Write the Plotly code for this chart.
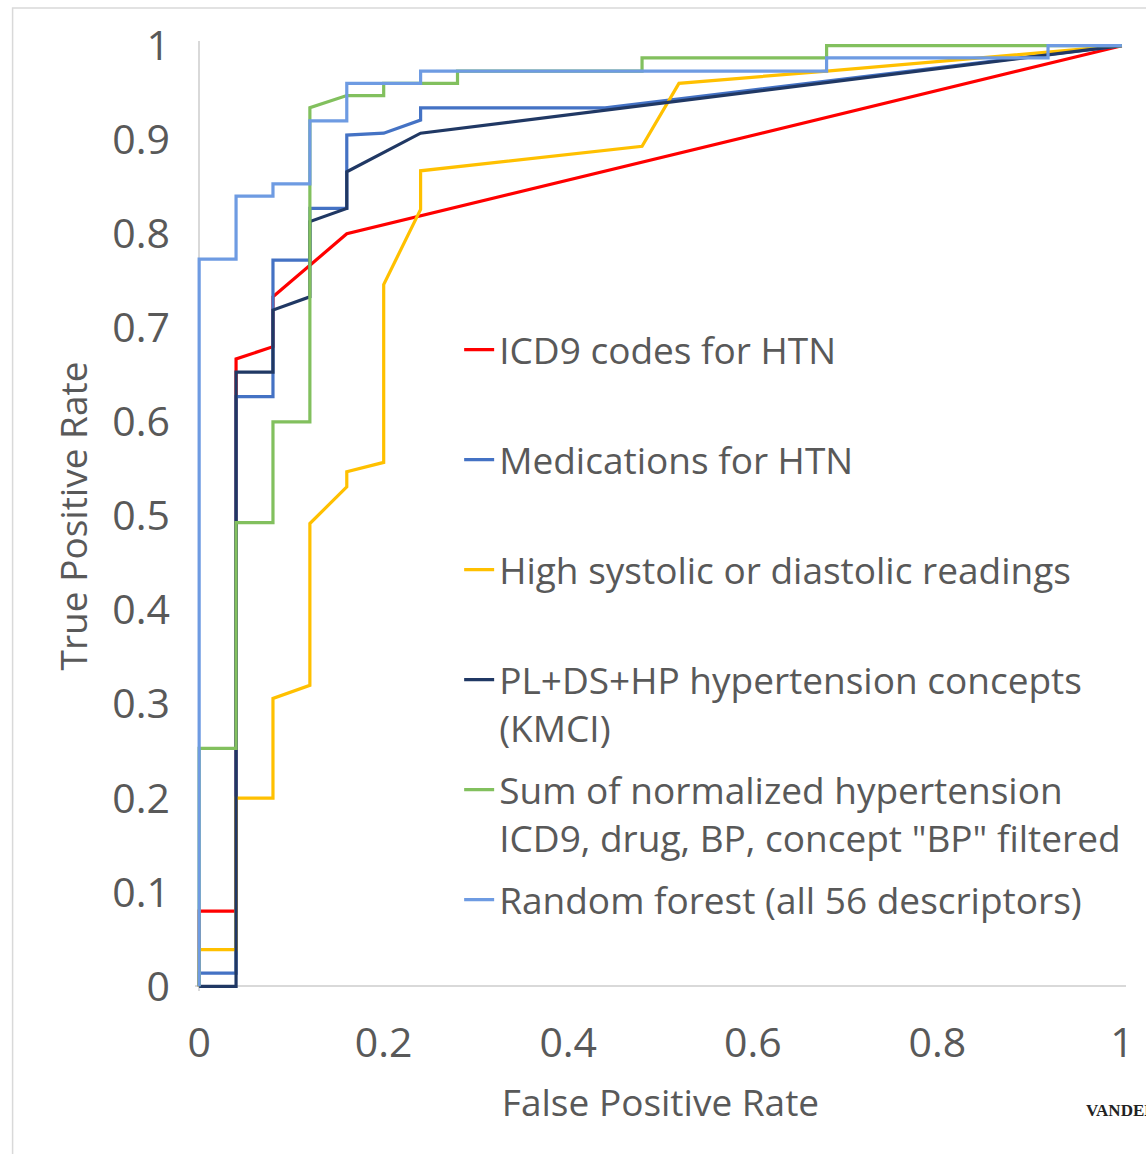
import plotly.graph_objects as go

# ---- data ----
fpr_icd9 = [0, 0, 0.04, 0.04, 0.08, 0.08, 0.16, 1]
tpr_icd9 = [0, 0.08, 0.08, 0.667, 0.68, 0.733, 0.80, 1]

fpr_med = [0, 0, 0.04, 0.04, 0.08, 0.08, 0.12, 0.12, 0.16, 0.16, 0.20, 0.24, 0.24, 0.44, 1]
tpr_med = [0, 0.014, 0.014, 0.627, 0.627, 0.772, 0.772, 0.827, 0.827, 0.905, 0.907, 0.921, 0.934, 0.934, 1]

fpr_bp = [0, 0, 0.04, 0.04, 0.08, 0.08, 0.12, 0.12, 0.16, 0.16, 0.20, 0.20, 0.24, 0.24, 0.48, 0.52, 0.68, 1]
tpr_bp = [0, 0.039, 0.039, 0.20, 0.20, 0.306, 0.32, 0.492, 0.531, 0.547, 0.557, 0.746, 0.826, 0.867, 0.893, 0.96, 0.973, 1]

fpr_kmci = [0, 0.04, 0.04, 0.08, 0.08, 0.12, 0.12, 0.16, 0.16, 0.24, 1]
tpr_kmci = [0, 0, 0.653, 0.653, 0.719, 0.733, 0.813, 0.827, 0.866, 0.907, 1]

fpr_sum = [0, 0, 0.04, 0.04, 0.08, 0.08, 0.12, 0.12, 0.16, 0.20, 0.20, 0.28, 0.28, 0.48, 0.48, 0.68, 0.68, 1]
tpr_sum = [0, 0.253, 0.253, 0.493, 0.493, 0.60, 0.60, 0.934, 0.947, 0.947, 0.96, 0.96, 0.973, 0.973, 0.987, 0.987, 1, 1]

fpr_rf = [0, 0, 0.04, 0.04, 0.08, 0.08, 0.12, 0.12, 0.16, 0.16, 0.24, 0.24, 0.68, 0.68, 0.92, 0.92, 1]
tpr_rf = [0, 0.773, 0.773, 0.84, 0.84, 0.853, 0.853, 0.92, 0.92, 0.96, 0.96, 0.973, 0.973, 0.987, 0.987, 1, 1]

series_names = [
    "ICD9 codes for HTN",
    "Medications for HTN",
    "High systolic or diastolic readings",
    "PL+DS+HP hypertension concepts<br>(KMCI)",
    "Sum of normalized hypertension<br>ICD9, drug, BP, concept \"BP\" filtered",
    "Random forest (all 56 descriptors)",
]
series_colors = ["#FF0000", "#4472C4", "#FFC000", "#203864", "#82C05E", "#6E9BE2"]

x_ticks = [0, 0.2, 0.4, 0.6, 0.8, 1]
x_tick_text = ["0", "0.2", "0.4", "0.6", "0.8", "1"]
y_ticks = [0, 0.1, 0.2, 0.3, 0.4, 0.5, 0.6, 0.7, 0.8, 0.9, 1]
y_tick_text = ["0", "0.1", "0.2", "0.3", "0.4", "0.5", "0.6", "0.7", "0.8", "0.9", "1"]

x_title = "False Positive Rate"
y_title = "True Positive Rate"

# ---- figure ----
W, H = 1146, 1154
L, R, T, B = 195, 1129, 41, 991
FONT = "'Open Sans', Lato, sans-serif"
GREY = "#595959"


def px_x(p):
    return (p - L) / (R - L)


def px_y(p):
    return (B - p) / (B - T)


xs = [fpr_icd9, fpr_med, fpr_bp, fpr_kmci, fpr_sum, fpr_rf]
ys = [tpr_icd9, tpr_med, tpr_bp, tpr_kmci, tpr_sum, tpr_rf]
legend_centers = [352, 462, 572, 682, 792, 902]

fig = go.Figure()
for i, (x, y) in enumerate(zip(xs, ys)):
    lg = "legend" if i == 0 else f"legend{i + 1}"
    fig.add_trace(go.Scatter(
        x=x, y=y, mode="lines", name=series_names[i],
        line=dict(color=series_colors[i], width=3.2),
        legend=lg, hoverinfo="skip",
    ))

legend_common = dict(
    font=dict(family=FONT, size=37, color=GREY),
    bgcolor="rgba(0,0,0,0)", borderwidth=0,
    xanchor="left", yanchor="top", valign="top",
    itemclick=False, itemdoubleclick=False,
)
layout_legends = {}
for i, c in enumerate(legend_centers):
    key = "legend" if i == 0 else f"legend{i + 1}"
    layout_legends[key] = dict(legend_common, x=px_x(460), y=px_y(c - 33))

fig.update_layout(
    width=W, height=H,
    margin=dict(l=L, r=W - R, t=T, b=H - B, pad=0),
    paper_bgcolor="white", plot_bgcolor="white",
    font=dict(family=FONT, color=GREY, size=37),
    showlegend=True,
    xaxis=dict(
        range=[-0.0045, 1.0045], tickvals=x_ticks, ticktext=x_tick_text,
        showgrid=False, showline=False, zeroline=True,
        zerolinecolor="#D9D9D9", zerolinewidth=1.5,
        ticks="", ticklabelstandoff=24,
        tickfont=dict(family=FONT, size=41, color=GREY),
        title=dict(text=x_title, standoff=22,
                   font=dict(family=FONT, size=37, color=GREY)),
        fixedrange=True,
    ),
    yaxis=dict(
        range=[-0.005, 1.005], tickvals=y_ticks, ticktext=y_tick_text,
        showgrid=False, showline=False, zeroline=True,
        zerolinecolor="#D9D9D9", zerolinewidth=1.5,
        ticks="", ticklabelstandoff=24,
        tickfont=dict(family=FONT, size=41, color=GREY),
        title=dict(text=y_title, standoff=13,
                   font=dict(family=FONT, size=37, color=GREY)),
        fixedrange=True,
    ),
    shapes=[dict(
        type="rect", xref="paper", yref="paper",
        x0=px_x(12), x1=px_x(1160), y0=px_y(1160), y1=px_y(8),
        line=dict(color="#D9D9D9", width=1.5), fillcolor="rgba(0,0,0,0)",
        layer="below",
    )],
    annotations=[dict(
        text="<b>VANDERBILT</b>", xref="paper", yref="paper",
        x=px_x(1087), y=px_y(1110), xanchor="left", yanchor="middle",
        showarrow=False,
        font=dict(family="Liberation Serif, DejaVu Serif, serif", size=17, color="#222222"),
    )],
    **layout_legends,
)

fig.write_html(
    "out.html",
    config={"displayModeBar": False},
    post_script="document.body.style.margin='0';document.body.style.overflow='hidden';",
)
